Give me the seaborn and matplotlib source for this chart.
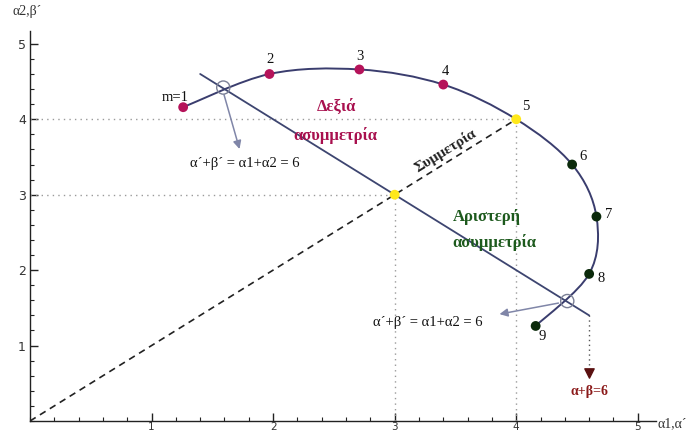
import numpy as np
import pandas as pd
import matplotlib
matplotlib.use("Agg")
import matplotlib.pyplot as plt
from matplotlib.path import Path
from matplotlib.patches import PathPatch
import seaborn as sns

# Points of the curve, m = 1..9
m_labels = ["m=1", "2", "3", "4", "5", "6", "7", "8", "9"]
alpha1 = [1.26, 1.97, 2.71, 3.40, 4.00, 4.46, 4.66, 4.60, 4.16]
alpha2 = [4.16, 4.60, 4.66, 4.46, 4.00, 3.40, 2.71, 1.95, 1.26]
groups = ["right", "right", "right", "right", "sym", "left", "left", "left", "left"]

# Symmetric point on the line α+β=6
center_pt = [3.0, 3.0]
# Line α+β=6 end points and its crossings with the curve
line_x = [1.40, 4.60]
line_y = [4.60, 1.40]
cross_x = [1.59, 4.42]
cross_y = [4.42, 1.59]

sns.set_theme(style="white")
plt.rcParams["font.family"] = ["Liberation Serif", "DejaVu Serif"]

fig = plt.figure(figsize=(6.91, 4.32), dpi=100)
ax = fig.add_axes([30 / 691, 11 / 432, 626 / 691, 390 / 432])
ax.set_xlim(0, 5.15)
ax.set_ylim(0, 5.17)

# Axes in the crossing style
for s in ["top", "right"]:
    ax.spines[s].set_visible(False)
for s in ["left", "bottom"]:
    ax.spines[s].set_color("#222222")
    ax.spines[s].set_linewidth(1.0)
ax.set_xticks([1, 2, 3, 4, 5])
ax.set_yticks([1, 2, 3, 4, 5])
ax.set_xticks(np.arange(0, 5.01, 0.2), minor=True)
ax.set_yticks(np.arange(0, 5.01, 0.2), minor=True)
ax.tick_params(which="major", direction="in", length=6, width=1, color="#222222",
               labelsize=9, labelcolor="#333333", pad=3)
ax.tick_params(axis="x", which="major", labelsize=7.5, pad=1)
ax.tick_params(which="minor", direction="in", length=3, width=0.8, color="#222222")
ax.tick_params(axis="both", which="both", bottom=True, left=True)
for lab in ax.get_xticklabels() + ax.get_yticklabels():
    lab.set_family(["DejaVu Sans"])

fig.text(27 / 691, 1 - 12 / 432, "α2,β´", ha="center", va="center", fontsize=10, color="#333333")
fig.text(657 / 691, 1 - 424 / 432, "α1,α´", ha="left", va="center", fontsize=10, color="#333333")

# Dotted guide lines
guide = dict(color="#9a9a9a", linestyle=(0, (1, 3)), linewidth=1.0, zorder=1)
ax.plot([0, 4], [4, 4], **guide)
ax.plot([0, 3], [3, 3], **guide)
ax.plot([3, 3], [0, 3], **guide)
ax.plot([4, 4], [0, 4], **guide)

# Symmetry diagonal
ax.plot([0, 4], [0, 4], color="#222222", linestyle=(0, (4, 3)), linewidth=1.2, zorder=2)
ax.text(3.42, 3.59, "Συμμετρία", rotation=31.8, rotation_mode="anchor", ha="center",
        va="center", fontsize=11, fontweight="bold", color="#222222")

# Smooth curve through the points (Catmull-Rom as cubic Bezier segments)
P = np.column_stack([alpha1, alpha2])
ext = np.vstack([P[0], P, P[-1]])
verts = [tuple(P[0])]
codes = [Path.MOVETO]
for i in range(1, len(ext) - 2):
    p0, p1, p2, p3 = ext[i - 1], ext[i], ext[i + 1], ext[i + 2]
    c1 = p1 + (p2 - p0) / 6
    c2 = p2 - (p3 - p1) / 6
    verts += [tuple(c1), tuple(c2), tuple(p2)]
    codes += [Path.CURVE4] * 3
ax.add_patch(PathPatch(Path(verts, codes), facecolor="none", edgecolor="#3a3d6e",
                       linewidth=1.4, zorder=3))

# Line α+β=6
sns.lineplot(x=line_x, y=line_y, color="#3d4570", linewidth=1.3, ax=ax, zorder=3)

# Crossing circles
ax.scatter(cross_x, cross_y, s=90, facecolors="none", edgecolors="#7a7f95",
           linewidths=1.0, zorder=4)

# Curve points
df = pd.DataFrame({"a1": alpha1, "a2": alpha2, "g": groups})
palette = {"right": "#b5135a", "sym": "#ffe81a", "left": "#0b2a0b"}
sns.scatterplot(data=df, x="a1", y="a2", hue="g", palette=palette, s=50,
                edgecolor="none", legend=False, ax=ax, zorder=5)
ax.scatter([center_pt[0]], [center_pt[1]], s=50, color="#ffe81a", edgecolors="none", zorder=5)
ax.set_xlabel("")
ax.set_ylabel("")

offsets = [(-8, 10), (1, 14), (1, 13), (2, 13), (10, 13), (11, 8), (12, 2), (12, -5), (7, -11)]
for lab, x, y, off in zip(m_labels, alpha1, alpha2, offsets):
    ax.annotate(lab, (x, y), xytext=off, textcoords="offset pixels", ha="center",
                va="center", fontsize=10.5, color="#111111")

# Region labels
ax.text(2.52, 4.16, "Δεξιά", ha="center", va="center", fontsize=12, fontweight="bold",
        color="#a8104e")
ax.text(2.51, 3.79, "ασυμμετρία", ha="center", va="center", fontsize=12, fontweight="bold",
        color="#a8104e")
ax.text(3.76, 2.71, "Αριστερή", ha="center", va="center", fontsize=12, fontweight="bold",
        color="#1d5a1d")
ax.text(3.82, 2.36, "ασυμμετρία", ha="center", va="center", fontsize=12, fontweight="bold",
        color="#1d5a1d")

# Annotation arrows from the crossings
arrow = dict(arrowstyle="-|>", color="#8086a8", lw=1.1, mutation_scale=12)
ax.annotate("", xy=(1.73, 3.57), xytext=(cross_x[0], cross_y[0] - 0.06), arrowprops=arrow)
ax.text(1.77, 3.41, "α´+β´ = α1+α2 = 6", ha="center", va="center", fontsize=10.5, color="#111111")
ax.annotate("", xy=(3.84, 1.41), xytext=(cross_x[1] - 0.05, cross_y[1] - 0.02), arrowprops=arrow)
ax.text(3.27, 1.31, "α´+β´ = α1+α2 = 6", ha="center", va="center", fontsize=10.5, color="#111111")

# Pointer to the line α+β=6
ax.plot([line_x[1], line_x[1]], [line_y[1], 0.66], color="#555555",
        linestyle=(0, (1, 2.5)), linewidth=1.0, zorder=2)
ax.scatter([line_x[1]], [0.64], marker="v", s=45, color="#5a1010", zorder=5)
ax.text(line_x[1], 0.39, "α+β=6", ha="center", va="center", fontsize=10, fontweight="bold",
        color="#8b1a1a")

fig.savefig("out.png", dpi=100)
